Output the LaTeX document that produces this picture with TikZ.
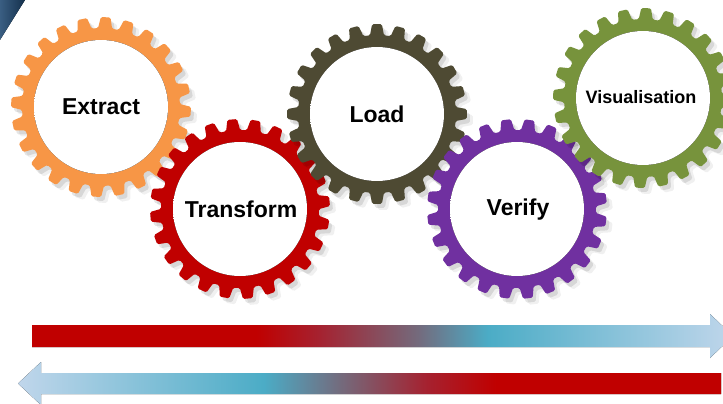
\documentclass[tikz,border=0pt]{standalone}
\usepackage{fontspec}
\setmainfont{Liberation Sans}
\definecolor{gorange}{HTML}{F79646}
\definecolor{gred}{HTML}{C00000}
\definecolor{golive}{HTML}{4E4A33}
\definecolor{gpurple}{HTML}{7030A0}
\definecolor{ggreen}{HTML}{77933C}
\definecolor{ca}{HTML}{A52230}
\definecolor{cb}{HTML}{746A7C}
\definecolor{cc}{HTML}{4BACC6}
\definecolor{cd}{HTML}{C0D6EB}
\definecolor{hw}{HTML}{FFFFFF}
\definecolor{hg}{HTML}{E4E4E4}
\definecolor{hd}{HTML}{C8C8C8}
\definecolor{bgA}{HTML}{3A5E82}
\definecolor{bgB}{HTML}{14304C}
\pgfdeclarehorizontalshading{arrright}{100bp}{color(0bp)=(gred); color(25bp)=(gred); color(41bp)=(gred); color(45.5bp)=(ca); color(52.5bp)=(cb); color(57.5bp)=(cc); color(75bp)=(cd); color(100bp)=(cd)}
\pgfdeclarehorizontalshading{arrleft}{100bp}{color(0bp)=(cd); color(25bp)=(cd); color(42.5bp)=(cc); color(48bp)=(cb); color(54bp)=(ca); color(59bp)=(gred); color(75bp)=(gred); color(100bp)=(gred)}
\pgfdeclareradialshading{holeshade}{\pgfpoint{0bp}{0bp}}{color(0bp)=(hw); color(42bp)=(hw); color(47bp)=(hg); color(50bp)=(hd)}
\tikzset{
  lbl/.style={font=\bfseries\fontsize{23}{27}\selectfont, text=black, inner sep=0pt},
  shade1/.style={black, opacity=0.10},
  shade2/.style={black, opacity=0.06}
}
\newcommand\gearteeth[1]{({#1-5.1}:79) \foreach \i in {0,...,23}{ -- ({\i*15+#1-5.1}:79) -- ({\i*15+#1-3.1}:90) -- ({\i*15+#1+3.1}:90) -- ({\i*15+#1+5.1}:79) } -- cycle}
\newcommand\mygear[4]{%
  \begin{scope}[shift={(#1,#2)}, rounded corners=1.5pt]
    \begin{scope}[shift={(6,6)}]\fill[shade2] \gearteeth{#4};\end{scope}
    \begin{scope}[shift={(3,4)}]\fill[shade1] \gearteeth{#4};\end{scope}
    \fill[#3] \gearteeth{#4};
    \begin{scope}[sharp corners]
      \clip (0,0) circle (67);
      \fill[shading=holeshade] (3,3) circle (72);
    \end{scope}
  \end{scope}}
\begin{document}
\begin{tikzpicture}[x=1pt,y=-1pt]
\useasboundingbox (0,0) rectangle (723,404);
\fill[white] (0,0) rectangle (723,404);
% corner fragment
\fill[left color=bgA, right color=bgB] (0,0) -- (25,0) -- (0,40) -- cycle;
% gears
\mygear{101}{107}{gorange}{3}
\mygear{240}{209}{gred}{10}
\mygear{377}{114}{golive}{0}
\mygear{517}{209}{gpurple}{8}
\mygear{643}{98}{ggreen}{2}
% labels
\node[lbl] (extract) at (101,107) {Extract};
\node[lbl] (transform) at (241,209) {Transform};
\node[lbl] (load) at (377,114) {Load};
\node[lbl] (verify) at (518,210) {Verify};
\node[lbl, font=\bfseries\fontsize{18}{22}\selectfont] (visual) at (641,97) {Visualisation};
% block arrows
\fill[shading=arrright] (32,325) -- (710,325) -- (710,314) -- (733,336) -- (710,358) -- (710,347) -- (32,347) -- cycle;
\fill[shading=arrleft] (721,373) -- (41,373) -- (41,362) -- (18,383.5) -- (41,405) -- (41,394) -- (721,394) -- cycle;
\end{tikzpicture}
\end{document}
